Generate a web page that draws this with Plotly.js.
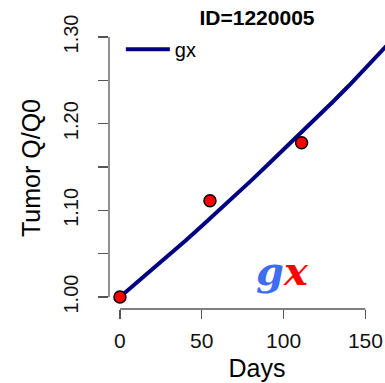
<!DOCTYPE html>
<html>
<head>
<meta charset="utf-8">
<script src="https://cdn.plot.ly/plotly-3.0.1.min.js"></script>
<style>
html,body{margin:0;padding:0;background:#fff;overflow:hidden;width:385px;height:383px;}
#chart{width:405px;height:383px;}
</style>
</head>
<body>
<div id="chart"></div>
<script>
// Observed data points
var obsDays = [0, 55, 111];
var obsQ = [1.000, 1.111, 1.178];

// Fitted gx curve
var fitDays = [0, 10, 20, 30, 40, 50, 60, 70, 80, 90, 100, 110, 120, 130, 140, 150, 160, 170];
var fitQ = [1.000, 1.016, 1.032, 1.048, 1.065, 1.082, 1.099, 1.116, 1.134, 1.152, 1.170, 1.188, 1.206, 1.225, 1.244, 1.264, 1.284, 1.304];

// Axis ticks
var yTickVals = [1.00, 1.05, 1.10, 1.15, 1.20, 1.25, 1.30];
var yTickText = ['1.00', '', '1.10', '', '1.20', '', '1.30'];
var xTickVals = [0, 50, 100, 150];
var xTickText = ['0', '50', '100', '150'];

var titleText = 'ID=1220005';
var legendName = 'gx';

var axisColor = '#555555';
var font = 'Arial, "Liberation Sans", sans-serif';

var traces = [
  {
    x: fitDays, y: fitQ, type: 'scatter', mode: 'lines', name: legendName,
    line: {color: '#000080', width: 4}, showlegend: true
  },
  {
    x: obsDays, y: obsQ, type: 'scatter', mode: 'markers', name: 'observed',
    marker: {color: '#ff0000', size: 12, line: {color: '#000000', width: 1.5}},
    showlegend: false, cliponaxis: false
  }
];

var layout = {
  width: 405, height: 383,
  margin: {l: 109, r: 0, t: 27, b: 74, pad: 0},
  paper_bgcolor: '#ffffff', plot_bgcolor: '#ffffff',
  font: {family: font, color: '#000000'},
  title: {
    text: '<b>' + titleText + '</b>',
    font: {family: font, size: 21, color: '#000000'},
    xref: 'paper', x: 0.5, xanchor: 'center',
    yref: 'container', y: 1 - 18/383, yanchor: 'middle'
  },
  showlegend: true,
  legend: {
    x: 0.04, y: 0.99, xanchor: 'left', yanchor: 'top',
    itemwidth: 44,
    bgcolor: 'rgba(0,0,0,0)', borderwidth: 0,
    font: {family: font, size: 20, color: '#000000'}
  },
  xaxis: {
    range: [-6.7, 174.2], showgrid: false, zeroline: false, showline: false,
    tickmode: 'array', tickvals: xTickVals, ticktext: xTickText,
    ticks: 'outside', ticklen: 9, tickwidth: 1.3, tickcolor: axisColor,
    ticklabelstandoff: 4,
    tickfont: {family: font, size: 21, color: '#111111'},
    title: {text: 'Days', font: {family: font, size: 25, color: '#000000'}, standoff: 8}
  },
  yaxis: {
    range: [0.9862, 1.3115], showgrid: false, zeroline: false, showline: false,
    tickmode: 'array', tickvals: yTickVals, ticktext: yTickText,
    ticks: 'outside', ticklen: 10, tickwidth: 1.3, tickcolor: axisColor,
    tickangle: -90, ticklabelstandoff: 12,
    tickfont: {family: font, size: 20, color: '#111111'},
    title: {text: 'Tumor Q/Q0', font: {family: font, size: 25, color: '#000000'}, standoff: 12}
  },
  shapes: [
    {type: 'line', xref: 'paper', x0: 0, x1: 0, yref: 'y', y0: yTickVals[0], y1: yTickVals[yTickVals.length-1],
     line: {color: axisColor, width: 1.3}},
    {type: 'line', xref: 'x', x0: xTickVals[0], x1: xTickVals[xTickVals.length-1], yref: 'paper', y0: 0, y1: 0,
     line: {color: axisColor, width: 1.3}}
  ],
  annotations: [
    {
      xref: 'x', yref: 'y', x: 99.5, y: 1.031, xanchor: 'center', yanchor: 'middle',
      text: '<b><i><span style="color:#3f6cf2">g</span><span style="color:#ff0000">x</span></i></b>',
      showarrow: false, font: {family: '"DejaVu Serif", serif', size: 40}
    }
  ]
};

Plotly.newPlot('chart', traces, layout, {displayModeBar: false, staticPlot: true});
</script>
</body>
</html>
